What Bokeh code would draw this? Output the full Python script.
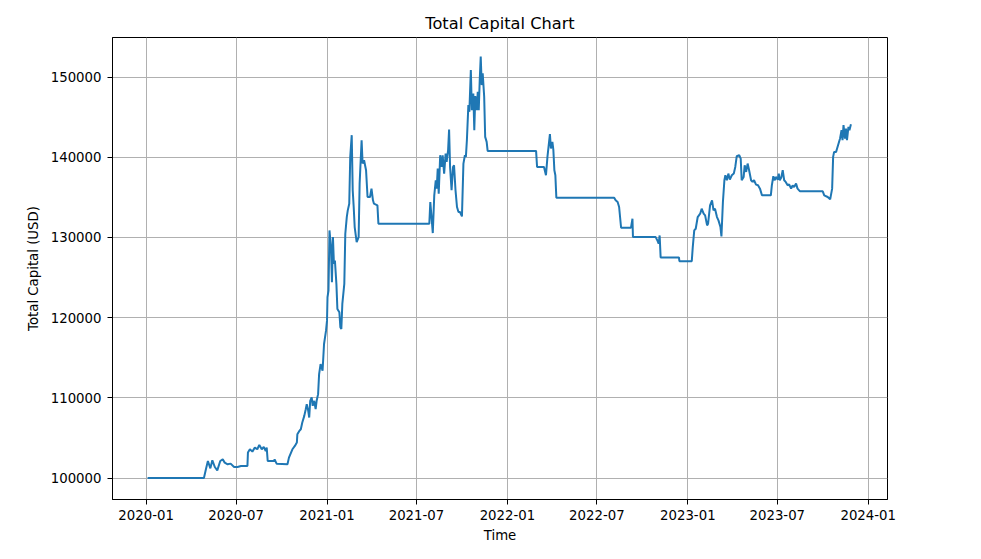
import pandas as pd
from bokeh.plotting import figure
from bokeh.models import (Range1d, FixedTicker, DatetimeTickFormatter,
                          BasicTickFormatter, ColumnDataSource)
from bokeh.embed import file_html
from bokeh.resources import INLINE

# ---------------- data ----------------
start_date = "2020-01-01"
# days since start_date
day_offsets = [
    3, 117, 121, 125, 130, 134, 139, 144, 150, 155, 159, 165, 171, 178, 185, 192,
    205, 206, 210, 215, 220, 225, 229, 234, 238, 242, 244, 246, 259, 260, 264, 286,
    289, 296, 301, 305, 306, 310, 313, 316, 320, 323, 325, 328, 330, 332, 335, 337,
    340, 343, 345, 348, 350, 353, 357, 360, 364, 366, 367, 369, 371, 374, 376, 378,
    380, 382, 385, 387, 391, 393, 395, 397, 401, 403, 406, 408, 411, 413, 416, 418,
    420, 422, 426, 430, 432, 436, 438, 441, 445, 448, 453, 456, 459, 461, 468, 470,
    573, 575, 578, 580, 583, 586, 588, 590, 592, 595, 598, 600, 603, 606, 608, 611,
    613, 615, 618, 621, 623, 626, 629, 632, 635, 639, 642, 645, 647, 649, 652, 654,
    657, 659, 662, 664, 666, 669, 671, 673, 675, 677, 679, 681, 684, 686, 689, 691,
    789, 791, 805, 809, 812, 817, 819, 822, 824, 826, 828, 830, 947, 950, 954, 957,
    961, 981, 984, 985, 1031, 1035, 1037, 1039, 1041, 1078, 1079, 1104, 1106, 1109,
    1112, 1116, 1121, 1124, 1128, 1131, 1135, 1137, 1141, 1145, 1148, 1151, 1155,
    1158, 1162, 1164, 1167, 1170, 1172, 1175, 1178, 1181, 1185, 1189, 1192, 1195,
    1200, 1203, 1205, 1209, 1211, 1214, 1217, 1220, 1224, 1227, 1230, 1234, 1238,
    1242, 1246, 1264, 1266, 1269, 1272, 1274, 1278, 1280, 1282, 1285, 1288, 1291,
    1294, 1298, 1301, 1305, 1308, 1311, 1315, 1318, 1323, 1369, 1372, 1379, 1384,
    1388, 1390, 1392, 1396, 1398, 1401, 1404, 1407, 1409, 1411, 1414, 1416, 1418,
    1421, 1423, 1426,
]
capital_usd = [
    100000, 100000, 101083, 102125, 101208, 102208, 101375, 100958, 102125, 102333,
    101917, 101708, 101792, 101375, 101375, 101500, 101500, 103167, 103583, 103292,
    103792, 103583, 104125, 103583, 103875, 103375, 103792, 102125, 102125, 102333,
    101792, 101708, 102542, 103583, 104000, 104417, 105458, 105875, 106083, 106917,
    107750, 108583, 109208, 108375, 107542, 109625, 110042, 109000, 109625, 108583,
    109625, 110458, 112958, 114208, 113375, 116708, 118375, 119625, 122542, 123375,
    130875, 128792, 124417, 130042, 126708, 127125, 124208, 121083, 120667, 118792,
    118583, 121708, 124208, 130458, 132542, 133375, 134208, 140042, 142750, 135875,
    133792, 131292, 129417, 130042, 136708, 142125, 139208, 139625, 138375, 135042,
    135042, 136083, 134625, 134208, 134000, 131708,
    131708, 134417, 132125, 130542, 135250, 137125, 136083, 138583, 135458, 140250,
    138792, 140250, 137958, 140458, 139417, 140875, 143458, 138792, 135875, 138792,
    139000, 135875, 133792, 133167, 133167, 132625, 139208, 140250, 140042, 142125,
    146500, 145667, 150875, 145875, 147958, 143375, 147625, 145875, 148167, 145875,
    149625, 152542, 149000, 150458, 147542, 142542, 141917, 140792,
    140792, 138792, 138792, 137750, 140042, 142875, 141083, 141917, 140875, 138375,
    137750, 134958, 134958, 134625, 134417, 133792, 131208, 131208, 132333, 130042,
    130042, 129542, 129208, 130250, 127500, 127500, 127042, 127042, 128792, 130875,
    131083, 132542, 132958, 133583, 132958, 132750, 131500, 131708, 134000, 134625,
    133375, 133583, 132542, 132125, 131292, 130125, 134417, 137125, 137750, 137125,
    137958, 137208, 137750, 137958, 138792, 140125, 140250, 139833, 137125, 137542,
    139000, 138167, 139208, 138375, 137125, 136917, 137125, 136583, 136500, 136083,
    135250, 135250, 136500, 137625, 137125, 137542, 137208, 137958, 137125, 137458,
    138375, 137125, 136917, 136500, 136625, 136083, 136500, 136292, 136708, 136083,
    135750, 135750, 135250, 135042, 134750, 136083, 140042, 140667, 140667, 141083,
    141708, 142333, 143375, 142125, 144000, 142333, 143583, 142125, 143792, 143375,
    144125,
]
x_tick_labels = ["2020-01", "2020-07", "2021-01", "2021-07", "2022-01",
                 "2022-07", "2023-01", "2023-07", "2024-01"]
y_ticks = [100000, 110000, 120000, 130000, 140000, 150000]

title_text = "Total Capital Chart"
x_label = "Time"
y_label = "Total Capital (USD)"

# ---------------- build ----------------
dates = pd.Timestamp(start_date) + pd.to_timedelta(day_offsets, unit="D")
src = ColumnDataSource(dict(t=dates.to_numpy(), v=capital_usd))

FONT = "DejaVu Sans"

p = figure(width=981, height=559, x_axis_type="datetime",
           output_backend="svg", toolbar_location=None,
           x_range=Range1d(pd.Timestamp("2019-10-25"), pd.Timestamp("2024-02-09")),
           y_range=Range1d(97320, 154930),
           min_border_left=112, min_border_right=94,
           min_border_top=37, min_border_bottom=60,
           title=title_text)

p.background_fill_color = "white"
p.border_fill_color = "white"
p.outline_line_color = "black"
p.outline_line_alpha = 1.0
p.outline_line_width = 1

p.title.align = "center"
p.title.text_font = FONT
p.title.text_font_size = "16.2px"
p.title.text_font_style = "normal"
p.title.text_color = "black"
p.title.standoff = 9

p.line("t", "v", source=src, line_color="#1f77b4", line_width=2)

tick_ms = [pd.Timestamp(s + "-01").timestamp() * 1000 for s in x_tick_labels]
p.xaxis.ticker = FixedTicker(ticks=tick_ms)
fmt = "%Y-%m"
p.xaxis.formatter = DatetimeTickFormatter(
    microseconds=fmt, milliseconds=fmt, seconds=fmt, minsec=fmt, minutes=fmt,
    hourmin=fmt, hours=fmt, days=fmt, months=fmt, years=fmt)
p.yaxis.ticker = FixedTicker(ticks=y_ticks)
p.yaxis.formatter = BasicTickFormatter(use_scientific=False)

for ax in (p.xaxis[0], p.yaxis[0]):
    ax.axis_line_color = "black"
    ax.axis_line_width = 1
    ax.major_tick_line_color = "black"
    ax.major_tick_out = 5
    ax.major_tick_in = 0
    ax.minor_tick_out = 0
    ax.minor_tick_in = 0
    ax.major_label_text_font = FONT
    ax.major_label_text_font_size = "13.3px"
    ax.major_label_text_color = "black"
    ax.axis_label_text_font = FONT
    ax.axis_label_text_font_size = "13.3px"
    ax.axis_label_text_font_style = "normal"
    ax.axis_label_text_color = "black"

p.xaxis.axis_label = x_label
p.yaxis.axis_label = y_label
p.xaxis.major_label_standoff = 5
p.yaxis.major_label_standoff = 6
p.xaxis.axis_label_standoff = 5
p.yaxis.axis_label_standoff = 7

for g in (p.xgrid[0], p.ygrid[0]):
    g.grid_line_color = "#b0b0b0"
    g.grid_line_width = 1
p.xgrid.ticker = p.xaxis.ticker
p.ygrid.ticker = p.yaxis.ticker

open("out.html", "w").write(file_html(p, INLINE))
